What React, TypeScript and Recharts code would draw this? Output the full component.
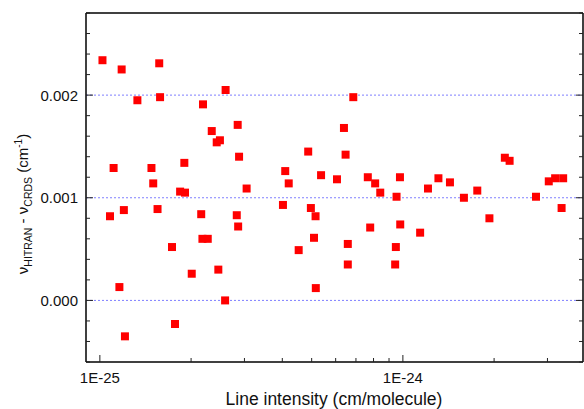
import { ScatterChart, Scatter, XAxis, YAxis, ReferenceLine } from 'recharts'

// line intensity (cm/molecule) and frequency difference HITRAN - CRDS (cm-1)
const intensities = [
  1.02e-25, 1.18e-25, 1.57e-25, 1.33e-25, 1.58e-25, 2.6e-25, 2.19e-25, 2.85e-25, 2.34e-25, 2.43e-25,
  2.49e-25, 1.11e-25, 1.48e-25, 1.9e-25, 2.88e-25, 1.5e-25, 1.84e-25, 1.91e-25, 3.05e-25, 6.86e-25,
  6.39e-25, 4.87e-25, 6.47e-25, 4.09e-25, 4.2e-25, 5.37e-25, 6.06e-25, 7.66e-25, 8.1e-25, 8.42e-25,
  9.78e-25, 9.53e-25, 1.21e-24, 1.31e-24, 1.43e-24, 1.59e-24, 1.76e-24, 2.17e-24, 2.25e-24, 2.75e-24,
  3.03e-24, 3.18e-24, 3.38e-24, 1.08e-25, 1.2e-25, 1.55e-25, 2.16e-25, 2.83e-25, 2.86e-25, 1.73e-25,
  2.18e-25, 2.27e-25, 2.01e-25, 2.46e-25, 1.16e-25, 2.59e-25, 1.77e-25, 1.21e-25, 4.02e-25, 4.97e-25,
  5.15e-25, 5.09e-25, 4.53e-25, 6.58e-25, 6.58e-25, 5.16e-25, 7.8e-25, 9.8e-25, 9.48e-25, 9.43e-25,
  1.14e-24, 1.93e-24, 3.34e-24,
]
const deltas = [
  0.00234, 0.00225, 0.00231, 0.00195, 0.00198, 0.00205, 0.00191, 0.00171, 0.00165, 0.00154,
  0.00156, 0.00129, 0.00129, 0.00134, 0.0014, 0.00114, 0.00106, 0.00105, 0.00109, 0.00198,
  0.00168, 0.00145, 0.00142, 0.00126, 0.00114, 0.00122, 0.00118, 0.0012, 0.00114, 0.00105,
  0.0012, 0.00101, 0.00109, 0.00119, 0.00115, 0.001, 0.00107, 0.00139, 0.00136, 0.00101,
  0.00116, 0.00119, 0.00119, 0.00082, 0.00088, 0.00089, 0.00084, 0.00083, 0.00072, 0.00052,
  0.0006, 0.0006, 0.00026, 0.0003, 0.00013, 0.0, -0.00023, -0.00035, 0.00093, 0.0009,
  0.00082, 0.00061, 0.00049, 0.00055, 0.00035, 0.00012, 0.00071, 0.00074, 0.00052, 0.00035,
  0.00066, 0.0008, 0.0009,
]
const xTicks = [1e-25, 2e-25, 3e-25, 4e-25, 5e-25, 6e-25, 7e-25, 8e-25, 9e-25, 1e-24, 2e-24, 3e-24]
const yTicks = [
  -0.0006, -0.0004, -0.0002, 0, 0.0002, 0.0004, 0.0006, 0.0008, 0.001, 0.0012, 0.0014, 0.0016,
  0.0018, 0.002, 0.0022, 0.0024, 0.0026, 0.0028,
]
const gridValues = [0, 0.001, 0.002]

const data = intensities.map((x, i) => ({ x, y: deltas[i] }))

const FONT = '"Liberation Sans", Arial, sans-serif'

const isDecade = (v: number) => Math.abs(Math.log10(v) - Math.round(Math.log10(v))) < 1e-6
const isMajorY = (v: number) => Math.abs(v * 1000 - Math.round(v * 1000)) < 1e-6
const decadeLabel = (v: number) => `1E${Math.round(Math.log10(v))}`

function BottomTick({ x, y, payload }: any) {
  const major = isDecade(payload.value)
  return (
    <g>
      <line x1={x} x2={x} y1={y} y2={y - (major ? 7 : 4)} stroke="#222" />
      {major && (
        <text x={x} y={y + 21} textAnchor="middle" fontSize={15} fontFamily={FONT} fill="#111">
          {decadeLabel(payload.value)}
        </text>
      )}
    </g>
  )
}

function TopTick({ x, y, payload }: any) {
  const major = isDecade(payload.value)
  return <line x1={x} x2={x} y1={y} y2={y + (major ? 7 : 4)} stroke="#222" />
}

function LeftTick({ x, y, payload }: any) {
  const major = isMajorY(payload.value)
  return (
    <g>
      <line x1={x} x2={x + (major ? 7 : 4)} y1={y} y2={y} stroke="#222" />
      {major && (
        <text x={x - 8} y={y} dy="0.36em" textAnchor="end" fontSize={15} fontFamily={FONT} fill="#111">
          {Math.abs(payload.value).toFixed(3)}
        </text>
      )}
    </g>
  )
}

function RightTick({ x, y, payload }: any) {
  const major = isMajorY(payload.value)
  return <line x1={x} x2={x - (major ? 7 : 4)} y1={y} y2={y} stroke="#222" />
}

function YTitle() {
  return (
    <text transform="translate(28,204) rotate(-90)" textAnchor="middle" fontSize={15} fontFamily={FONT} fill="#111">
      <tspan>ν</tspan>
      <tspan fontSize={10.5} dy={4}>HITRAN</tspan>
      <tspan dy={-4}> - ν</tspan>
      <tspan fontSize={10.5} dy={4}>CRDS</tspan>
      <tspan dy={-4}> (cm</tspan>
      <tspan fontSize={10} dy={-6}>-1</tspan>
      <tspan dy={6}>)</tspan>
    </text>
  )
}

function XTitle() {
  return (
    <text x={334} y={405} textAnchor="middle" fontSize={17.5} fontFamily={FONT} fill="#111">
      Line intensity (cm/molecule)
    </text>
  )
}

const axisLine = { stroke: '#000', strokeWidth: 1.5 }

export default function App() {
  return (
    <div style={{ position: 'absolute', left: 0, top: 0 }}>
      <ScatterChart width={584} height={409} margin={{ top: 0, right: 0, bottom: 0, left: 0 }}>
        <XAxis
          xAxisId="bottom"
          dataKey="x"
          type="number"
          scale="log"
          domain={[9e-26, 3.93e-24]}
          allowDataOverflow
          ticks={xTicks}
          interval={0}
          height={47}
          tickSize={0}
          tickMargin={0}
          tickLine={false}
          axisLine={axisLine}
          tick={<BottomTick />}
          label={<XTitle />}
        />
        <XAxis
          xAxisId="top"
          orientation="top"
          type="number"
          scale="log"
          domain={[9e-26, 3.93e-24]}
          allowDataOverflow
          ticks={xTicks}
          interval={0}
          height={13}
          tickSize={0}
          tickMargin={0}
          tickLine={false}
          axisLine={axisLine}
          tick={<TopTick />}
        />
        <YAxis
          yAxisId="left"
          dataKey="y"
          type="number"
          domain={[-0.0006, 0.0028]}
          allowDataOverflow
          ticks={yTicks}
          interval={0}
          width={86}
          tickSize={0}
          tickMargin={0}
          tickLine={false}
          axisLine={axisLine}
          tick={<LeftTick />}
          label={<YTitle />}
        />
        <YAxis
          yAxisId="right"
          orientation="right"
          type="number"
          domain={[-0.0006, 0.0028]}
          allowDataOverflow
          ticks={yTicks}
          interval={0}
          width={1}
          tickSize={0}
          tickMargin={0}
          tickLine={false}
          axisLine={axisLine}
          tick={<RightTick />}
        />
        {gridValues.map((v) => (
          <ReferenceLine
            key={v}
            y={v}
            xAxisId="bottom"
            yAxisId="left"
            stroke="#7f7fff"
            strokeDasharray="2 2"
            strokeWidth={1}
          />
        ))}
        <Scatter
          data={data}
          xAxisId="bottom"
          yAxisId="left"
          fill="#ff0000"
          shape="square"
          size={49}
          isAnimationActive={false}
        />
      </ScatterChart>
    </div>
  )
}
